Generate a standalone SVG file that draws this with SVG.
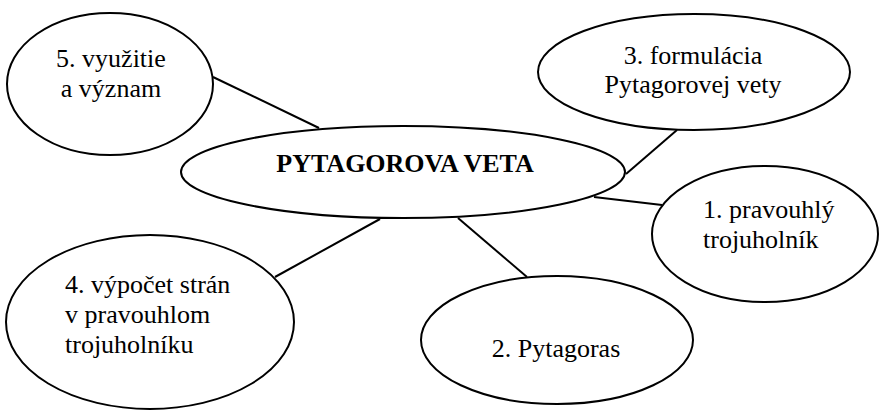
<svg xmlns="http://www.w3.org/2000/svg" width="880" height="410" viewBox="0 0 880 410">
<style>
.n{fill:#fff;stroke:#000;stroke-width:2}
.c line{stroke:#000;stroke-width:2}
text{font-family:'Liberation Serif','Times New Roman',serif;font-size:26px;fill:#000}
.m{text-anchor:middle}
.b{font-weight:bold}
</style>
<rect width="880" height="410" fill="#fff"/>
<g id="connectors" class="c">
<line x1="213" y1="77" x2="319" y2="128"/>
<line x1="677" y1="130" x2="626" y2="174"/>
<line x1="594" y1="197" x2="662" y2="205"/>
<line x1="380" y1="219" x2="275" y2="277"/>
<line x1="458" y1="218" x2="527" y2="277"/>
</g>
<g id="n5">
<ellipse class="n" cx="110" cy="84" rx="103" ry="71"/>
<text class="m" x="111" y="67">5. využitie</text>
<text class="m" x="111" y="97">a význam</text>
</g>
<g id="n3">
<ellipse class="n" cx="694" cy="72" rx="156" ry="58"/>
<text class="m" x="693" y="64">3. formulácia</text>
<text class="m" x="693" y="93">Pytagorovej vety</text>
</g>
<g id="center">
<ellipse class="n" cx="403" cy="172" rx="222" ry="46"/>
<text class="m b" x="405" y="172">PYTAGOROVA VETA</text>
</g>
<g id="n1">
<ellipse class="n" cx="765" cy="234" rx="113" ry="68"/>
<text x="703" y="218">1. pravouhlý</text>
<text x="703" y="248">trojuholník</text>
</g>
<g id="n4">
<ellipse class="n" cx="150" cy="322" rx="144" ry="87"/>
<text x="65" y="293">4. výpočet strán</text>
<text x="65" y="323">v pravouhlom</text>
<text x="65" y="353">trojuholníku</text>
</g>
<g id="n2">
<ellipse class="n" cx="557" cy="340" rx="136" ry="64"/>
<text class="m" x="556" y="357">2. Pytagoras</text>
</g>
</svg>
